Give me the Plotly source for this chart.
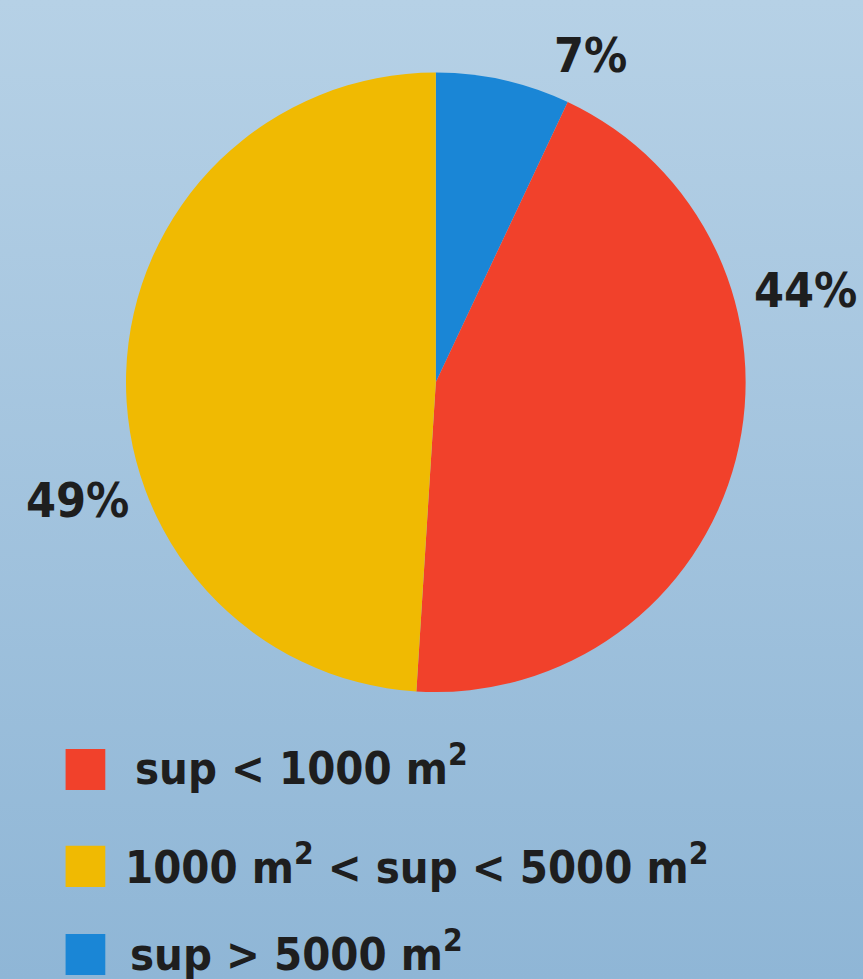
import plotly.graph_objects as go

# data
categories = ["sup > 5000 m²", "sup < 1000 m²", "1000 m² < sup < 5000 m²"]
shares = [7, 44, 49]
colors = ["#1a86d6", "#f1412b", "#f0ba02"]

# legend order as printed under the pie
legend_labels = [
    "sup < 1000 m<sup>2</sup>",
    "1000 m<sup>2</sup> < sup < 5000 m<sup>2</sup>",
    "sup > 5000 m<sup>2</sup>",
]
legend_colors = ["#f1412b", "#f0ba02", "#1a86d6"]

FONT = "Liberation Sans Narrow, DejaVu Sans Condensed, Arial Narrow, sans-serif"
TXT = "#1e1e1e"

fig = go.Figure()

# background gradient
fig.add_trace(go.Scatter(
    x=[0, 1, 1, 0], y=[0, 0, 1, 1],
    fill="toself", mode="none",
    fillgradient=dict(type="vertical",
                      colorscale=[[0, "#8fb6d6"], [1, "#b6d1e6"]]),
    hoverinfo="skip", showlegend=False,
))

fig.add_trace(go.Pie(
    labels=categories,
    values=shares,
    marker=dict(colors=colors, line=dict(width=0)),
    sort=False,
    direction="clockwise",
    rotation=0,
    textinfo="none",
    showlegend=False,
    domain=dict(x=[0.146, 0.864], y=[0.293, 0.926]),
))

# percent labels
label_pos = {0: (0.684, 0.944), 1: (0.933, 0.704), 2: (0.090, 0.489)}
for i, (x, y) in label_pos.items():
    fig.add_annotation(
        x=x, y=y, xref="paper", yref="paper",
        xanchor="center", yanchor="middle",
        text=f"<b>{shares[i]}%</b>", showarrow=False,
        font=dict(family=FONT, size=48, color=TXT),
    )

# hand-made legend
legend_y = [0.186, 0.085, -0.004]
legend_x = [0.154, 0.142, 0.148]
box_y = [0.214, 0.115, 0.025]
for lab, col, y, x, by in zip(legend_labels, legend_colors, legend_y, legend_x, box_y):
    fig.add_shape(
        type="rect", xref="paper", yref="paper",
        x0=0.076, x1=0.122, y0=by - 0.021, y1=by + 0.021,
        fillcolor=col, line=dict(width=0),
    )
    fig.add_annotation(
        x=x, y=y, xref="paper", yref="paper",
        xanchor="left", yanchor="bottom",
        text=f"<b>{lab}</b>", showarrow=False,
        font=dict(family=FONT, size=45, color=TXT),
    )

fig.update_layout(
    width=863, height=979,
    margin=dict(l=0, r=0, t=0, b=0),
    paper_bgcolor="#a6c6de",
    plot_bgcolor="rgba(0,0,0,0)",
    xaxis=dict(visible=False, range=[0, 1], fixedrange=True),
    yaxis=dict(visible=False, range=[0, 1], fixedrange=True),
    showlegend=False,
)

fig.write_html("out.html", config={"displayModeBar": False},
               post_script="document.body.style.margin='0';")
